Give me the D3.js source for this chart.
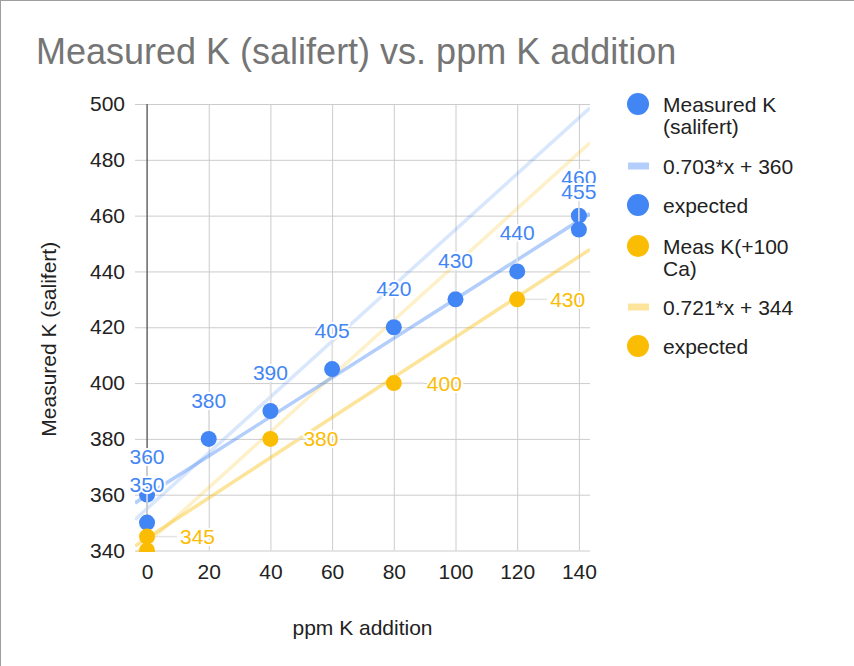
<!DOCTYPE html>
<html>
<head>
<meta charset="utf-8">
<script src="https://cdn.jsdelivr.net/npm/d3@7"></script>
<style>
  html, body { margin: 0; padding: 0; background: #fff; }
  svg { display: block; font-family: "Liberation Sans", Arial, sans-serif; }
</style>
</head>
<body>
<svg id="chart" width="854" height="666"></svg>
<script>
// ---- data ----
const title = "Measured K (salifert) vs. ppm K addition";
const xTitle = "ppm K addition";
const yTitle = "Measured K (salifert)";
const xTicks = [0, 20, 40, 60, 80, 100, 120, 140];
const yTicks = [340, 360, 380, 400, 420, 440, 460, 480, 500];

// Measured K (salifert)
const blueX = [0, 0, 20, 40, 60, 80, 100, 120, 140, 140];
const blueY = [360, 350, 380, 390, 405, 420, 430, 440, 460, 455];
// expected (blue)
const blueExpX = [0, 20, 40, 60, 80, 100, 120, 140];
const blueExpY = [355, 375, 395, 415, 435, 455, 475, 495];
// Meas K(+100 Ca)
const yellowX = [0, 0, 40, 80, 120];
const yellowY = [340, 345, 380, 400, 430];
// expected (yellow)
const yellowExpX = [0, 20, 40, 60, 80, 100, 120, 140];
const yellowExpY = [342.5, 362.5, 382.5, 402.5, 422.5, 442.5, 462.5, 482.5];

const seriesNames = ["Measured K (salifert)", "expected", "Meas K(+100 Ca)", "expected"];

// ---- layout ----
const BLUE = "#4285F4", YELLOW = "#FBBC04";
const W = 854, H = 666;
const L = 135, R = 590, T = 104, B = 550.5;

const svg = d3.select("#chart");

// frame (top & left edges)
svg.append("line").attr("x1", 0).attr("x2", W).attr("y1", 0.5).attr("y2", 0.5).attr("stroke", "#9e9e9e");
svg.append("line").attr("x1", 0.5).attr("x2", 0.5).attr("y1", 0).attr("y2", H).attr("stroke", "#9e9e9e");

const x = d3.scaleLinear().domain([-3.9, 143.6]).range([L, R]);
const y = d3.scaleLinear().domain([340, 500]).range([B, T]);

// title
svg.append("text").attr("x", 36).attr("y", 64)
  .attr("font-size", 36).attr("fill", "#757575").text(title);

// gridlines + tick labels via axes
const gy = svg.append("g").attr("transform", `translate(${L},0)`)
  .call(d3.axisLeft(y).tickValues(yTicks).tickSize(-(R - L)).tickPadding(10).tickFormat(d3.format("d")));
gy.select(".domain").remove();
gy.selectAll(".tick line").attr("stroke", "#cccccc").attr("stroke-width", 1);
gy.selectAll(".tick text").attr("font-size", 21).attr("fill", "#222").attr("font-family", "Liberation Sans, Arial, sans-serif");

const gx = svg.append("g").attr("transform", `translate(0,${B})`)
  .call(d3.axisBottom(x).tickValues(xTicks).tickSize(-(B - T)).tickPadding(13.6).tickFormat(d3.format("d")));
gx.select(".domain").remove();
gx.selectAll(".tick line").attr("stroke", "#cccccc").attr("stroke-width", 1);
gx.selectAll(".tick text").attr("font-size", 21).attr("fill", "#222").attr("font-family", "Liberation Sans, Arial, sans-serif");

// zero (vertical baseline) line
svg.append("line").attr("x1", x(0)).attr("x2", x(0)).attr("y1", T).attr("y2", B)
  .attr("stroke", "#333").attr("stroke-width", 1);

// axis titles
svg.append("text").attr("x", (L + R) / 2 - 0).attr("y", 635).attr("text-anchor", "middle")
  .attr("font-size", 21).attr("fill", "#222").text(xTitle);
svg.append("text").attr("transform", `translate(56,${(T + B) / 2 + 12}) rotate(-90)`)
  .attr("text-anchor", "middle").attr("font-size", 21).attr("fill", "#222").text(yTitle);

// clip
svg.append("clipPath").attr("id", "clip").append("rect")
  .attr("x", L).attr("y", T).attr("width", R - L).attr("height", B - T + 1.5);
const plot = svg.append("g").attr("clip-path", "url(#clip)");

function fit(xs, ys) {
  const mx = d3.mean(xs), my = d3.mean(ys);
  let sxy = 0, sxx = 0;
  xs.forEach((v, i) => { sxy += (v - mx) * (ys[i] - my); sxx += (v - mx) * (v - mx); });
  const m = sxy / sxx;
  return { m, b: my - m * mx };
}
function drawFit(f, color, opacity, width) {
  const [x0, x1] = x.domain();
  plot.append("line")
    .attr("x1", x(x0)).attr("y1", y(f.m * x0 + f.b))
    .attr("x2", x(x1)).attr("y2", y(f.m * x1 + f.b))
    .attr("stroke", color).attr("stroke-opacity", opacity).attr("stroke-width", width);
}

const blueFit = fit(blueX, blueY);
const yellowFit = fit(yellowX, yellowY);
const blueExpFit = fit(blueExpX, blueExpY);
const yellowExpFit = fit(yellowExpX, yellowExpY);

drawFit(blueExpFit, BLUE, 0.2, 3.5);
drawFit(yellowExpFit, YELLOW, 0.22, 3.5);
drawFit(blueFit, BLUE, 0.4, 3.5);
drawFit(yellowFit, YELLOW, 0.4, 3.5);

const blue = blueX.map((v, i) => ({ x: v, y: blueY[i] }));
const yellow = yellowX.map((v, i) => ({ x: v, y: yellowY[i] }));

// leader lines
const lead = svg.append("g");
blue.forEach(d => {
  lead.append("line").attr("x1", x(d.x)).attr("x2", x(d.x))
    .attr("y1", y(d.y) - 29).attr("y2", y(d.y) - 8)
    .attr("stroke", "#e3e3e3").attr("stroke-width", 1.5);
});
yellow.filter(d => d.y > y.domain()[0]).forEach(d => {
  lead.append("line").attr("x1", x(d.x) + 8).attr("x2", x(d.x) + 30)
    .attr("y1", y(d.y)).attr("y2", y(d.y))
    .attr("stroke", "#e3e3e3").attr("stroke-width", 1.5);
});

// points
plot.selectAll("circle.b").data(blue).join("circle").attr("class", "b")
  .attr("cx", d => x(d.x)).attr("cy", d => y(d.y)).attr("r", 8).attr("fill", BLUE);
plot.selectAll("circle.yl").data(yellow).join("circle").attr("class", "yl")
  .attr("cx", d => x(d.x)).attr("cy", d => y(d.y)).attr("r", 8).attr("fill", YELLOW);

// data labels
const labels = svg.append("g").attr("font-size", 21);
blue.forEach(d => {
  labels.append("text").attr("x", x(d.x)).attr("y", y(d.y) - 31)
    .attr("text-anchor", "middle").attr("fill", BLUE)
    .attr("stroke", "#fff").attr("stroke-width", 4).attr("paint-order", "stroke")
    .attr("stroke-linejoin", "round").text(d.y);
});
yellow.filter(d => d.y > y.domain()[0]).forEach(d => {
  labels.append("text").attr("x", x(d.x) + 33).attr("y", y(d.y) + 7.5)
    .attr("text-anchor", "start").attr("fill", YELLOW)
    .attr("stroke", "#fff").attr("stroke-width", 4).attr("paint-order", "stroke")
    .attr("stroke-linejoin", "round").text(d.y);
});

// legend
const fmtEq = f => `${f.m.toFixed(3)}*x + ${Math.round(f.b)}`;
const legendItems = [
  { type: "dot", color: BLUE, lines: ["Measured K", "(salifert)"], cy: 104 },
  { type: "line", color: "#b3cefb", lines: [fmtEq(blueFit)], cy: 166 },
  { type: "dot", color: BLUE, lines: [seriesNames[1]], cy: 205 },
  { type: "dot", color: YELLOW, lines: ["Meas K(+100", "Ca)"], cy: 246 },
  { type: "line", color: "#fde49b", lines: [fmtEq(yellowFit)], cy: 307 },
  { type: "dot", color: YELLOW, lines: [seriesNames[3]], cy: 346 }
];
const lg = svg.append("g");
legendItems.forEach(it => {
  if (it.type === "dot") {
    lg.append("circle").attr("cx", 638).attr("cy", it.cy).attr("r", 11).attr("fill", it.color);
  } else {
    lg.append("rect").attr("x", 628).attr("y", it.cy - 3.5).attr("width", 21).attr("height", 7).attr("fill", it.color);
  }
  it.lines.forEach((t, j) => {
    lg.append("text").attr("x", 663).attr("y", it.cy + 8 + j * 22)
      .attr("font-size", 21).attr("fill", "#222").text(t);
  });
});
</script>
</body>
</html>
